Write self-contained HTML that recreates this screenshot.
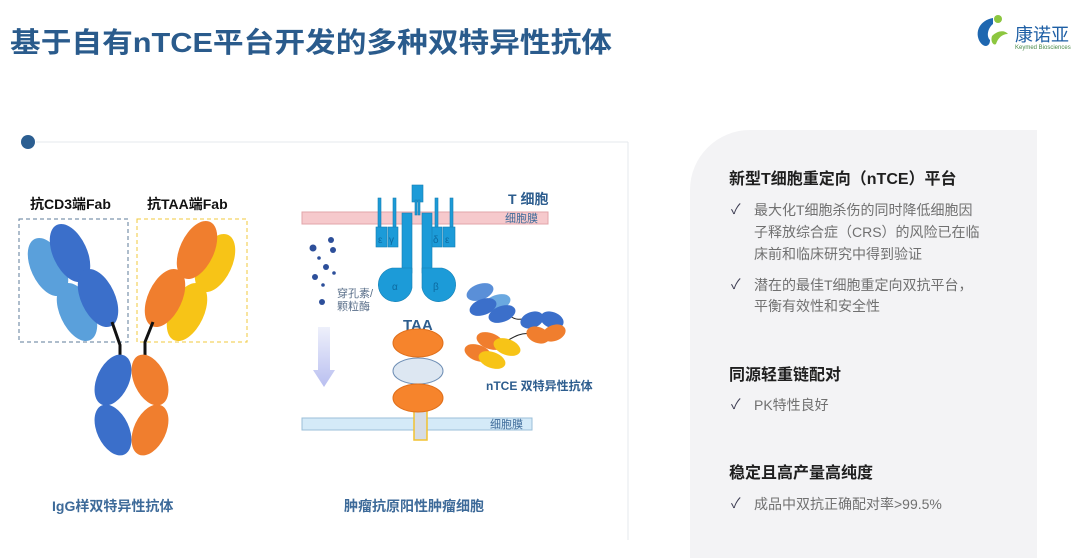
<!DOCTYPE html>
<html><head><meta charset="utf-8"><style>
body{margin:0;width:1080px;height:558px;overflow:hidden;background:#fff;font-family:"Liberation Sans","Noto Sans CJK SC",sans-serif;}
svg{display:block}
</style></head><body>
<svg width="1080" height="558" viewBox="0 0 1080 558" font-family="Liberation Sans, Noto Sans CJK SC, sans-serif">
<defs>
<linearGradient id="ar" x1="0" y1="0" x2="0" y2="1"><stop offset="0" stop-color="#eef0fb"/><stop offset="1" stop-color="#b9bff0"/></linearGradient>
</defs>
<text x="10" y="52" font-size="28" font-weight="bold" fill="#2a5b8c" textLength="602" lengthAdjust="spacingAndGlyphs">基于自有nTCE平台开发的多种双特异性抗体</text>
<path d="M993 18 C980 20 974 32 980 42 C984 48 990 47 990 40 C986 36 988 28 993 24Z" fill="#1e67b0"/>
<circle cx="998" cy="19" r="4" fill="#8cc63f"/>
<path d="M992 36 C998 30 1005 30 1008 34 C1002 34 998 38 996 44 C994 46 990 42 992 36Z" fill="#8cc63f"/>
<text x="1015" y="41" font-size="18" fill="#1e5fa5">康诺亚</text>
<text x="1015" y="49" font-size="6" fill="#4a8a4a">Keymed Biosciences</text>
<line x1="36" y1="142" x2="628" y2="142" stroke="#e6e8ec" stroke-width="1"/>
<line x1="628" y1="142" x2="628" y2="540" stroke="#e6e8ec" stroke-width="1"/>
<circle cx="28" cy="142" r="7" fill="#2b5e91"/>
<path d="M750 130 H1037 V558 H690 V190 A60 60 0 0 1 750 130Z" fill="#f3f3f5"/>
<text x="30" y="209" font-size="14" font-weight="bold" fill="#111">抗CD3端Fab</text>
<text x="147" y="209" font-size="14" font-weight="bold" fill="#111">抗TAA端Fab</text>
<rect x="19" y="219" width="109" height="123" fill="none" stroke="#5d7b99" stroke-dasharray="4,3"/>
<rect x="137" y="219" width="110" height="123" fill="none" stroke="#f0c93c" stroke-dasharray="4,3"/>
<g>
<ellipse cx="48" cy="267" rx="17" ry="31" transform="rotate(-25 48 267)" fill="#5aa0db"/>
<ellipse cx="77" cy="312" rx="17" ry="31" transform="rotate(-25 77 312)" fill="#5aa0db"/>
<ellipse cx="70" cy="253" rx="17" ry="31" transform="rotate(-25 70 253)" fill="#3b6fca"/>
<ellipse cx="98" cy="298" rx="17" ry="31" transform="rotate(-25 98 298)" fill="#3b6fca"/>
<ellipse cx="215" cy="263" rx="17" ry="31" transform="rotate(25 215 263)" fill="#f7c417"/>
<ellipse cx="187" cy="312" rx="17" ry="31" transform="rotate(25 187 312)" fill="#f7c417"/>
<ellipse cx="197" cy="250" rx="17" ry="31" transform="rotate(25 197 250)" fill="#f07e2e"/>
<ellipse cx="165" cy="298" rx="17" ry="31" transform="rotate(25 165 298)" fill="#f07e2e"/>
<polyline points="112,322 120,345 120,360" fill="none" stroke="#111" stroke-width="3"/>
<polyline points="153,322 145,342 145,360" fill="none" stroke="#111" stroke-width="3"/>
<ellipse cx="113" cy="380" rx="16" ry="27" transform="rotate(25 113 380)" fill="#3b6fca"/>
<ellipse cx="113" cy="430" rx="16" ry="27" transform="rotate(-25 113 430)" fill="#3b6fca"/>
<ellipse cx="150" cy="380" rx="16" ry="27" transform="rotate(-25 150 380)" fill="#f07e2e"/>
<ellipse cx="150" cy="430" rx="16" ry="27" transform="rotate(25 150 430)" fill="#f07e2e"/>
</g>
<text x="52" y="511" font-size="14" font-weight="bold" fill="#3d6a99">IgG样双特异性抗体</text>
<rect x="302" y="212" width="246" height="12" fill="#f6c9cc" stroke="#e2a5aa"/>
<text x="505" y="222" font-size="11" fill="#3d6a99">细胞膜</text>
<text x="508" y="204" font-size="14" font-weight="bold" fill="#2d5d8e">T 细胞</text>
<g fill="#1c9bd8" stroke="#157fb3" stroke-width="0.6">
<rect x="412" y="185" width="11" height="17"/>
<rect x="415" y="200" width="2" height="15"/><rect x="418" y="200" width="2" height="15"/>
<rect x="378" y="198" width="3" height="30"/><rect x="393" y="198" width="3" height="30"/>
<rect x="435" y="198" width="3" height="30"/><rect x="450" y="198" width="3" height="30"/>
<rect x="376" y="227" width="11" height="20"/><rect x="388" y="227" width="10" height="20"/>
<rect x="431" y="227" width="11" height="20"/><rect x="443" y="227" width="12" height="20"/>
<rect x="402" y="213" width="10" height="60"/><rect x="422" y="213" width="10" height="60"/>
<path d="M412 268 L412 288 A17 17 0 1 1 392 268 Z"/>
<path d="M422 268 L422 288 A17 17 0 1 0 442 268 Z"/>
</g>
<g font-size="10" fill="#0d6aa0">
<text x="378" y="243">ε</text><text x="389" y="243">γ</text><text x="433" y="243">δ</text><text x="445" y="243">ε</text>
<text x="392" y="290">α</text><text x="433" y="290">β</text>
</g>
<g fill="#2d4f9a">
<circle cx="313" cy="248" r="3.5"/><circle cx="331" cy="240" r="3"/><circle cx="333" cy="250" r="3"/>
<circle cx="319" cy="258" r="1.8"/><circle cx="326" cy="267" r="3"/><circle cx="315" cy="277" r="3"/>
<circle cx="334" cy="273" r="1.8"/><circle cx="323" cy="285" r="1.8"/><circle cx="322" cy="302" r="3"/>
</g>
<text x="337" y="297" font-size="11" fill="#5a6f8a">穿孔素/</text>
<text x="337" y="310" font-size="11" fill="#5a6f8a">颗粒酶</text>
<path d="M318 327 H330 V370 H335 L324 387 L313 370 H318Z" fill="url(#ar)"/>
<text x="403" y="330" font-size="15" font-weight="bold" fill="#2d5d8e">TAA</text>
<rect x="302" y="418" width="230" height="12" fill="#d4eaf8" stroke="#9bbfd8"/>
<text x="490" y="428" font-size="11" fill="#3d6a99">细胞膜</text>
<rect x="414" y="410" width="13" height="30" fill="#d6dce4" stroke="#f2c230" stroke-width="1.5"/>
<ellipse cx="418" cy="343" rx="25" ry="14" fill="#f6842c" stroke="#e06f1a"/>
<ellipse cx="418" cy="371" rx="25" ry="13" fill="#dde7f2" stroke="#6f8fb5"/>
<ellipse cx="418" cy="398" rx="25" ry="14" fill="#f6842c" stroke="#e06f1a"/>
<g>
<path d="M510 316 C518 322 524 318 530 318 M505 342 C515 336 522 332 532 334" fill="none" stroke="#222" stroke-width="1"/>
<ellipse cx="480" cy="292" rx="8" ry="14" transform="rotate(70 480 292)" fill="#5a8fd8"/>
<ellipse cx="497" cy="303" rx="8" ry="14" transform="rotate(70 497 303)" fill="#6aa8e0"/>
<ellipse cx="483" cy="307" rx="8" ry="14" transform="rotate(70 483 307)" fill="#3b6fca"/>
<ellipse cx="502" cy="314" rx="8" ry="14" transform="rotate(70 502 314)" fill="#3b6fca"/>
<ellipse cx="532" cy="320" rx="8" ry="12" transform="rotate(70 532 320)" fill="#3b6fca"/>
<ellipse cx="552" cy="320" rx="8" ry="12" transform="rotate(110 552 320)" fill="#3b6fca"/>
<ellipse cx="538" cy="335" rx="8" ry="12" transform="rotate(110 538 335)" fill="#f07e2e"/>
<ellipse cx="554" cy="333" rx="8" ry="12" transform="rotate(70 554 333)" fill="#f07e2e"/>
<ellipse cx="490" cy="341" rx="8" ry="14" transform="rotate(110 490 341)" fill="#f07e2e"/>
<ellipse cx="507" cy="347" rx="8" ry="14" transform="rotate(110 507 347)" fill="#f7c417"/>
<ellipse cx="478" cy="353" rx="8" ry="14" transform="rotate(110 478 353)" fill="#f07e2e"/>
<ellipse cx="492" cy="360" rx="8" ry="14" transform="rotate(110 492 360)" fill="#f7c417"/>
</g>
<text x="486" y="390" font-size="12" font-weight="bold" fill="#2d5d8e">nTCE 双特异性抗体</text>
<text x="344" y="511" font-size="14" font-weight="bold" fill="#3d6a99">肿瘤抗原阳性肿瘤细胞</text>
<g font-size="16" font-weight="bold" fill="#1f1f1f">
<text x="729" y="184">新型T细胞重定向（nTCE）平台</text>
<text x="729" y="380">同源轻重链配对</text>
<text x="729" y="478">稳定且高产量高纯度</text>
</g>
<g font-size="14" fill="#3a3a50"><text x="731" y="214">✓</text><text x="731" y="289">✓</text><text x="731" y="409">✓</text><text x="731" y="508">✓</text></g>
<g font-size="14" fill="#707070">
<text x="754" y="215">最大化T细胞杀伤的同时降低细胞因</text>
<text x="754" y="237">子释放综合症（CRS）的风险已在临</text>
<text x="754" y="259">床前和临床研究中得到验证</text>
<text x="754" y="290">潜在的最佳T细胞重定向双抗平台，</text>
<text x="754" y="311">平衡有效性和安全性</text>
<text x="754" y="410">PK特性良好</text>
<text x="754" y="509">成品中双抗正确配对率&gt;99.5%</text>
</g>
</svg>
</body></html>
